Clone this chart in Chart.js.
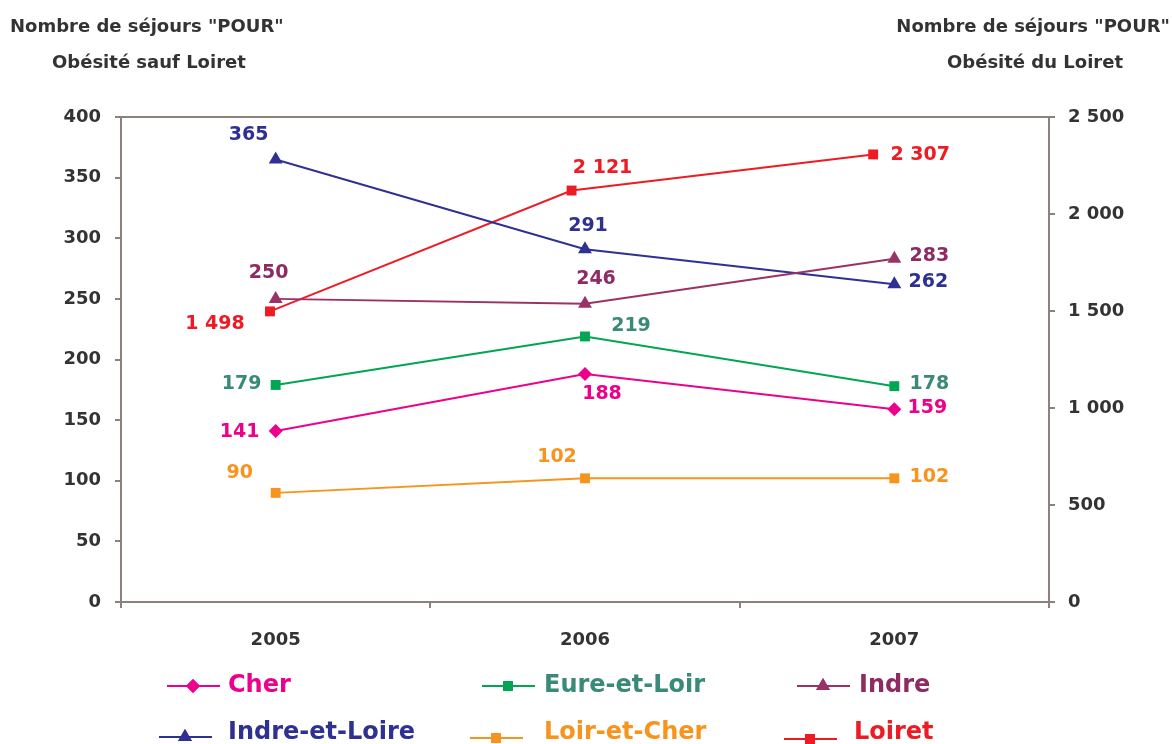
<!DOCTYPE html>
<html>
<head>
<meta charset="utf-8">
<script src="https://cdn.jsdelivr.net/npm/chart.js@4.4.1/dist/chart.umd.min.js"></script>
<style>
  html, body { margin: 0; padding: 0; background: #fff; }
  #wrap { width: 1173px; height: 744px; position: relative; }
</style>
</head>
<body>
<div id="wrap"><canvas id="myChart" width="1173" height="744"></canvas></div>
<script>
// data
const years = ['2005', '2006', '2007'];
const cher = [141, 188, 159];
const eureEtLoir = [179, 219, 178];
const indre = [250, 246, 283];
const indreEtLoire = [365, 291, 262];
const loirEtCher = [90, 102, 102];
const loiret = [1498, 2121, 2307];
const leftTicks = [0, 50, 100, 150, 200, 250, 300, 350, 400];
const rightTicks = [0, 500, 1000, 1500, 2000, 2500];

const FONT = "'DejaVu Sans', sans-serif";
const axisColor = '#8c817c';

function spaced(v) {
    return String(v).replace(/\B(?=(\d{3})+(?!\d))/g, ' ');
}

// label offsets (px) around each point, and legend slots [lineX, textX, y, lineDy]
const series = [
    { label: 'Cher', data: cher, color: '#ec008c', text: '#ec008c', style: 'rectRot', r: 7,
      off: [[-36, 1], [17, 20], [33, -1]], leg: [167, 228, 686, 0] },
    { label: 'Eure-et-Loir', data: eureEtLoir, color: '#00a651', text: '#3a8a78', style: 'rect', r: 7,
      off: [[-34, -1], [46, -10], [35, -2]], leg: [482, 544, 686, 0] },
    { label: 'Indre', data: indre, color: '#993366', text: '#8e2b63', style: 'triangle', r: 8,
      off: [[-7, -26], [11, -25], [35, -3]], leg: [797, 859, 686, 0] },
    { label: 'Indre-et-Loire', data: indreEtLoire, color: '#2e3192', text: '#2e3192', style: 'triangle', r: 8,
      off: [[-27, -24], [3, -23], [34, -2]], leg: [159, 228, 733, 4] },
    { label: 'Loir-et-Cher', data: loirEtCher, color: '#f7941d', text: '#f7941d', style: 'rect', r: 7,
      off: [[-36, -20], [-28, -21], [35, -1]], leg: [470, 544, 733, 5] },
    { label: 'Loiret', data: loiret, color: '#ed1c24', text: '#ed1c24', style: 'rect', r: 7,
      off: [[-55, 13], [31, -22], [47, 1]], leg: [784, 854, 733, 6], right: true }
];

const datasets = series.map(s => ({
    label: s.label,
    data: s.right ? s.data.map((v, i) => ({ x: i, y: v })) : s.data,
    xAxisID: s.right ? 'x2' : 'x',
    yAxisID: s.right ? 'y2' : 'y',
    borderColor: s.color,
    backgroundColor: s.color,
    borderWidth: 2,
    pointStyle: s.style,
    pointRadius: s.r,
    pointHoverRadius: s.r,
    pointBorderWidth: 0,
    tension: 0
}));

const extras = {
    id: 'extras',
    afterDatasetsDraw(chart) {
        const c = chart.ctx, a = chart.chartArea;
        c.save();
        // top frame line
        c.strokeStyle = axisColor;
        c.lineWidth = 2;
        c.beginPath();
        c.moveTo(a.left, a.top);
        c.lineTo(a.right, a.top);
        c.stroke();

        // titles
        c.fillStyle = '#333';
        c.font = 'bold 18px ' + FONT;
        c.textBaseline = 'middle';
        c.textAlign = 'left';
        c.fillText('Nombre de séjours "POUR"', 10, 27);
        c.fillText('Obésité sauf Loiret', 52, 63);
        c.textAlign = 'right';
        c.fillText('Nombre de séjours "POUR"', 1170, 27);
        c.fillText('Obésité du Loiret', 1123, 63);

        // value labels
        c.font = 'bold 19px ' + FONT;
        c.textAlign = 'center';
        series.forEach((s, di) => {
            const meta = chart.getDatasetMeta(di);
            c.fillStyle = s.text;
            meta.data.forEach((pt, i) => {
                c.fillText(spaced(s.data[i]), pt.x + s.off[i][0], pt.y + s.off[i][1]);
            });
        });

        // legend
        c.font = 'bold 24px ' + FONT;
        c.textAlign = 'left';
        series.forEach(s => {
            const [lx, tx, y, dy] = s.leg;
            const ly = y + dy;
            c.strokeStyle = s.color;
            c.lineWidth = 2;
            c.beginPath();
            c.moveTo(lx, ly);
            c.lineTo(lx + 53, ly);
            c.stroke();
            c.fillStyle = s.color;
            Chart.helpers.drawPoint(c, { pointStyle: s.style, radius: s.r, borderWidth: 0 }, lx + 26, ly);
            c.fill();
            c.fillStyle = s.text;
            c.fillText(s.label, tx, y);
        });
        c.restore();
    }
};

const ctx = document.getElementById('myChart');
window.myChart = new Chart(ctx, {
    type: 'line',
    data: { labels: years, datasets: datasets },
    plugins: [extras],
    options: {
        responsive: false,
        animation: false,
        events: [],
        layout: { padding: { top: 117, left: 0, right: 0, bottom: 0 } },
        plugins: { legend: { display: false }, tooltip: { enabled: false } },
        scales: {
            x: {
                type: 'category',
                offset: true,
                grid: { offset: true, drawOnChartArea: false, tickLength: 6, color: axisColor, lineWidth: 2 },
                border: { color: axisColor, width: 2 },
                ticks: { color: '#333', font: { family: FONT, size: 18, weight: 'bold' }, padding: 22 },
                afterFit: (s) => { s.height = 142; }
            },
            x2: {
                type: 'linear',
                display: false,
                min: -0.494,
                max: 2.583
            },
            y: {
                position: 'left',
                min: 0,
                max: 400,
                afterBuildTicks: (s) => { s.ticks = leftTicks.map(v => ({ value: v })); },
                grid: { drawOnChartArea: false, tickLength: 6, color: axisColor, lineWidth: 2 },
                border: { color: axisColor, width: 2 },
                ticks: { color: '#333', font: { family: FONT, size: 18, weight: 'bold' }, padding: 14 },
                afterFit: (s) => { s.width = 121; }
            },
            y2: {
                position: 'right',
                min: 0,
                max: 2500,
                afterBuildTicks: (s) => { s.ticks = rightTicks.map(v => ({ value: v })); },
                grid: { drawOnChartArea: false, tickLength: 6, color: axisColor, lineWidth: 2 },
                border: { color: axisColor, width: 2 },
                ticks: { color: '#333', font: { family: FONT, size: 18, weight: 'bold' }, padding: 13,
                         callback: (v) => spaced(v) },
                afterFit: (s) => { s.width = 124; }
            }
        }
    }
});
</script>
</body>
</html>
